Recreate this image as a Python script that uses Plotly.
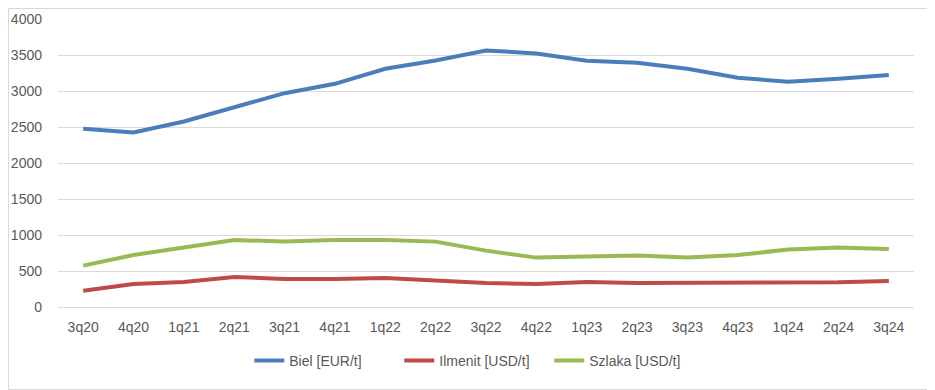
import plotly.graph_objects as go

quarters = ["3q20", "4q20", "1q21", "2q21", "3q21", "4q21", "1q22", "2q22", "3q22",
            "4q22", "1q23", "2q23", "3q23", "4q23", "1q24", "2q24", "3q24"]
biel = [2475, 2424, 2577, 2776, 2970, 3100, 3309, 3424, 3563, 3522, 3420, 3392, 3309, 3184, 3128, 3170, 3221]
ilmenit = [227, 320, 348, 417, 389, 389, 403, 375, 334, 320, 348, 334, 334, 334, 343, 343, 361]
szlaka = [575, 723, 825, 931, 908, 931, 931, 908, 783, 686, 700, 714, 686, 723, 797, 825, 806]

series = [
    ("Biel [EUR/t]", biel, "#4A7EBB"),
    ("Ilmenit [USD/t]", ilmenit, "#BE4B48"),
    ("Szlaka [USD/t]", szlaka, "#98B954"),
]

fig = go.Figure()
for name, vals, color in series:
    fig.add_trace(go.Scatter(x=quarters, y=vals, name=name, mode="lines",
                             line=dict(color=color, width=4)))

fig.update_layout(
    width=927, height=382,
    margin=dict(l=50, r=21, t=11, b=83, autoexpand=False),
    paper_bgcolor="white", plot_bgcolor="white",
    font=dict(family="Liberation Sans, Arial, sans-serif", size=14, color="#595959"),
    showlegend=True,
    legend=dict(orientation="h", xref="container", x=0.503, xanchor="center",
                yref="container", y=0.076, yanchor="middle", entrywidth=105,
                font=dict(size=14, color="#595959"), traceorder="normal"),
    xaxis=dict(showgrid=False, showline=False, ticks="", ticklabelstandoff=10,
               automargin=False, range=[-0.5, len(quarters) - 0.5]),
    yaxis=dict(range=[0, 4000], dtick=500, showgrid=True, gridcolor="#D9D9D9",
               gridwidth=1, zeroline=True, zerolinecolor="#D9D9D9", zerolinewidth=1,
               showline=False, ticks="", ticklabelstandoff=15, automargin=False),
    shapes=[dict(type="rect", xref="paper", yref="paper", x0=-49.5/856, x1=1 + 20/856,
                 y0=-82.5/288, y1=1 + 10.5/288, line=dict(color="#D9D9D9", width=1))],
)

fig.write_html("out.html")
